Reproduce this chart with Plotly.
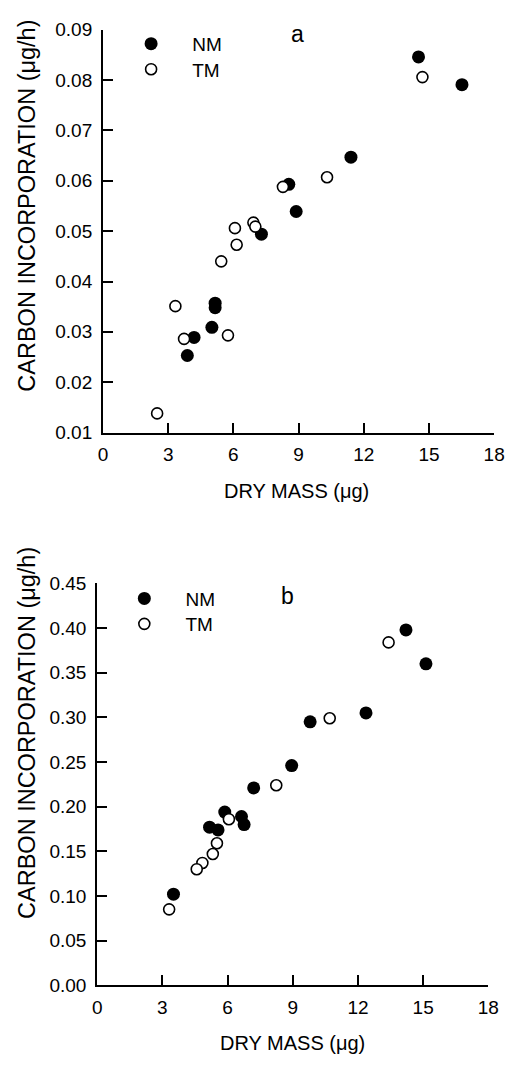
import plotly.graph_objects as go

# The page body keeps the browser's default 8 px margin, so the figure is
# made 16 px smaller than the 517x1066 window and every layout position below
# is given in window pixels, shifted by that margin.
WIN_W, WIN_H = 517, 1066
BODY = 8
W, H = WIN_W - 2 * BODY, WIN_H - 2 * BODY

# ---- Panel a data ----
a_nm_x = [14.52, 16.52, 11.41, 8.55, 8.89, 7.29, 5.16, 5.16, 5.01, 4.19, 3.88]
a_nm_y = [0.0846, 0.0791, 0.0647, 0.0593, 0.0539, 0.0494, 0.0357, 0.0348, 0.0309, 0.0289, 0.0253]
a_tm_x = [14.70, 10.31, 8.28, 6.92, 7.01, 6.07, 6.15, 5.44, 3.33, 3.73, 5.75, 2.49]
a_tm_y = [0.0806, 0.0607, 0.0588, 0.0517, 0.0509, 0.0506, 0.0473, 0.0440, 0.0351, 0.0286, 0.0293, 0.0138]

# ---- Panel b data ----
b_nm_x = [14.21, 15.13, 12.37, 9.80, 8.95, 7.20, 5.87, 6.64, 6.76, 5.17, 5.56, 3.51]
b_nm_y = [0.398, 0.360, 0.305, 0.295, 0.246, 0.221, 0.194, 0.189, 0.180, 0.177, 0.174, 0.102]
b_tm_x = [13.41, 10.70, 8.24, 6.06, 5.51, 5.32, 4.84, 4.58, 3.31]
b_tm_y = [0.384, 0.299, 0.224, 0.186, 0.159, 0.147, 0.137, 0.130, 0.085]

x_ticks = [0, 3, 6, 9, 12, 15, 18]
a_y_ticks = [0.01, 0.02, 0.03, 0.04, 0.05, 0.06, 0.07, 0.08, 0.09]
b_y_ticks = [0.00, 0.05, 0.10, 0.15, 0.20, 0.25, 0.30, 0.35, 0.40, 0.45]

series_names = ["NM", "TM"]
x_title = "DRY MASS (μg)"
y_title = "CARBON INCORPORATION (μg/h)"

FONT = "Liberation Sans, Arial, Helvetica, sans-serif"
PAD = "\u00a0\u00a0\u00a0\u00a0"


def px_x(p):
    return (p - BODY) / W


def px_y(p):
    return 1 - (p - BODY) / H


fig = go.Figure()

filled = dict(symbol="circle", size=13, color="black", line=dict(width=0))
opened = dict(symbol="circle", size=11, color="white", line=dict(width=1.6, color="black"))

fig.add_trace(go.Scatter(x=a_nm_x, y=a_nm_y, mode="markers", name=PAD + series_names[0], marker=filled,
                         xaxis="x", yaxis="y", legend="legend", showlegend=True))
fig.add_trace(go.Scatter(x=a_tm_x, y=a_tm_y, mode="markers", name=PAD + series_names[1], marker=opened,
                         xaxis="x", yaxis="y", legend="legend2", showlegend=True))
fig.add_trace(go.Scatter(x=b_nm_x, y=b_nm_y, mode="markers", name=PAD + series_names[0], marker=filled,
                         xaxis="x2", yaxis="y2", legend="legend3", showlegend=True))
fig.add_trace(go.Scatter(x=b_tm_x, y=b_tm_y, mode="markers", name=PAD + series_names[1], marker=opened,
                         xaxis="x2", yaxis="y2", legend="legend4", showlegend=True))

axis_common = dict(
    showgrid=False, zeroline=False, showline=True, linecolor="black", linewidth=2,
    ticks="inside", ticklen=10, tickwidth=1.5, tickcolor="black",
    ticklabeloverflow="allow",
    tickfont=dict(family=FONT, size=19, color="black"),
)


def legend_at(x_sym, y_sym):
    # x_sym / y_sym: window pixel centre of the legend symbol
    return dict(x=px_x(x_sym - 20), y=px_y(y_sym - 20), xanchor="left", yanchor="top",
                bgcolor="rgba(0,0,0,0)", font=dict(family=FONT, size=19, color="black"))


fig.update_layout(
    width=W, height=H,
    margin=dict(l=0, r=0, t=0, b=0),
    paper_bgcolor="white", plot_bgcolor="white",
    font=dict(family=FONT, color="black"),
    showlegend=True,
    xaxis=dict(domain=[px_x(101), px_x(505)], range=[0, 18], tickvals=x_ticks,
               anchor="y", ticklabelstandoff=4, **axis_common),
    yaxis=dict(domain=[px_y(431), px_y(20)], range=[0.01, 0.09], tickvals=a_y_ticks,
               tickformat=".2f", anchor="x", ticklabelstandoff=5, **axis_common),
    xaxis2=dict(domain=[px_x(95), px_x(499)], range=[0, 18], tickvals=x_ticks,
                anchor="y2", ticklabelstandoff=4, **axis_common),
    yaxis2=dict(domain=[px_y(995), px_y(585)], range=[0, 0.45], tickvals=b_y_ticks,
                tickformat=".2f", anchor="x2", ticklabelstandoff=5, **axis_common),
    legend=legend_at(150, 35),
    legend2=legend_at(150, 61),
    legend3=legend_at(143, 601),
    legend4=legend_at(143, 627),
)


def label(text, x, y, size, angle=0):
    return dict(text=text, x=px_x(x), y=px_y(y), xref="paper", yref="paper",
                xanchor="center", yanchor="middle", textangle=angle,
                showarrow=False, font=dict(family=FONT, size=size, color="black"))


ann = [
    label("a", 302, 24, 23),
    label("b", 292, 598, 23),
    label(x_title, 301, 491, 20),
    label(x_title, 297, 1054, 20),
    label(y_title, 23, 200, 23.5, -90),
    label(y_title, 23, 738, 23.5, -90),
]
fig.update_layout(annotations=ann)

fig.write_html("out.html", config={"displayModeBar": False})
